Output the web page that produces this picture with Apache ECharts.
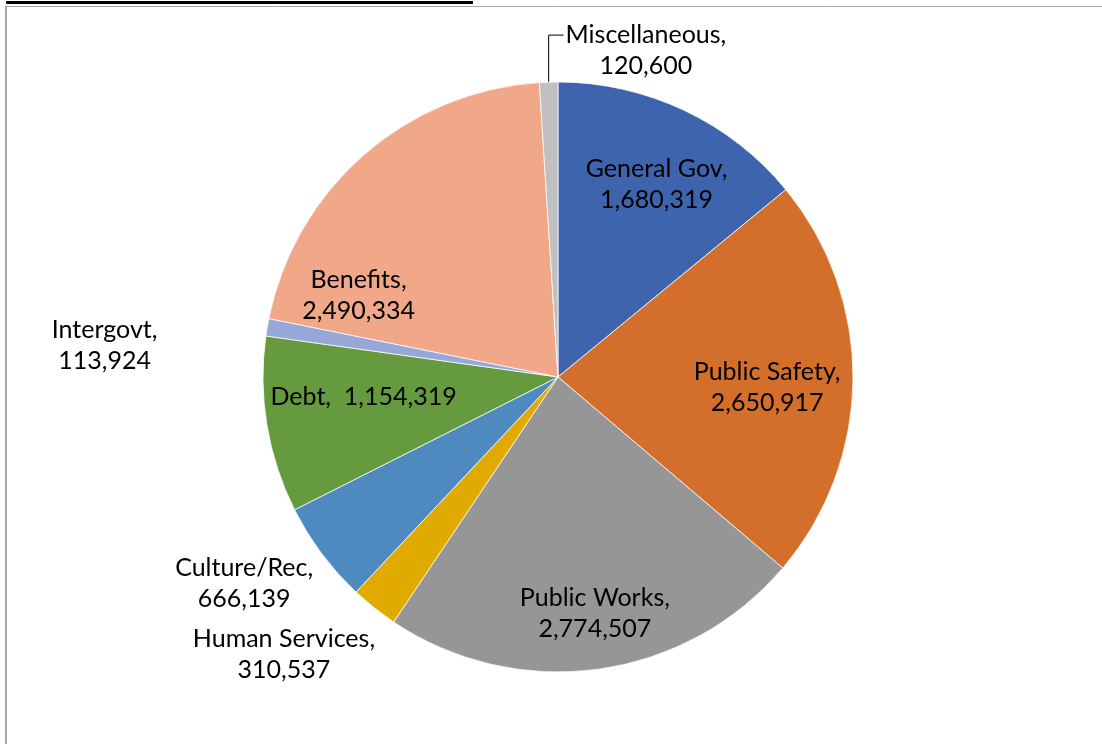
<!DOCTYPE html>
<html>
<head>
<meta charset="utf-8">
<script src="https://cdn.jsdelivr.net/npm/echarts@6/dist/echarts.min.js"></script>
<style>
  html, body { margin: 0; padding: 0; background: #fff; }
  #chart { width: 1102px; height: 744px; }
</style>
</head>
<body>
<div id="chart"></div>
<script>
// data
const categories = ['General Gov', 'Public Safety', 'Public Works', 'Human Services',
  'Culture/Rec', 'Debt', 'Intergovt', 'Benefits', 'Miscellaneous'];
const amounts = [1680319, 2650917, 2774507, 310537, 666139, 1154319, 113924, 2490334, 120600];
const colors = ['#3e64ad', '#d36f2b', '#969696', '#e1aa00', '#4e8abf',
  '#659a3f', '#96a7d8', '#f0a889', '#c0c0c0'];

// pie geometry
const cx = 558, cy = 377, R = 295;

// where each label sits, relative to the centre in radius units
const labelSpots = {
  'General Gov': [0.334, -0.652],
  'Public Safety': [0.709, 0.037],
  'Public Works': [0.125, 0.801],
  'Human Services': [-0.929, 0.939],
  'Culture/Rec': [-1.064, 0.699],
  'Debt': [-0.659, 0.068],
  'Intergovt': [-1.537, -0.108],
  'Benefits': [-0.676, -0.277],
  'Miscellaneous': [0.298, -1.107]
};
const oneLine = ['Debt'];

const fmt = v => v.toLocaleString('en-US');

const chart = echarts.init(document.getElementById('chart'));

const option = {
  animation: false,
  backgroundColor: '#fff',
  graphic: [
    { type: 'rect', shape: { x: 6, y: 1, width: 467, height: 3 }, style: { fill: '#000' } },
    { type: 'line', shape: { x1: 5, y1: 6.5, x2: 1102, y2: 6.5 }, style: { stroke: '#a6a6a6', lineWidth: 1 } },
    { type: 'line', shape: { x1: 6, y1: 6, x2: 6, y2: 744 }, style: { stroke: '#a6a6a6', lineWidth: 2 } }
  ],
  series: [{
    type: 'pie',
    center: [cx, cy],
    radius: R,
    startAngle: 90,
    clockwise: true,
    avoidLabelOverlap: false,
    itemStyle: { borderColor: '#fff', borderWidth: 0.75 },
    label: {
      show: true,
      position: 'inside',
      color: '#000',
      fontFamily: 'Lato',
      fontSize: 25,
      lineHeight: 31,
      formatter: p => oneLine.includes(p.name)
        ? p.name + ',  ' + fmt(p.value)
        : p.name + ',\n' + fmt(p.value)
    },
    labelLine: { show: false },
    labelLayout: params => {
      const name = categories[params.dataIndex];
      const s = labelSpots[name];
      const out = {
        x: cx + s[0] * R,
        y: cy + s[1] * R,
        align: 'center',
        verticalAlign: 'middle'
      };
      if (name === 'Miscellaneous' && params.labelLinePoints) {
        const p0 = params.labelLinePoints[0];
        const topY = cy - 1.159 * R;
        out.labelLinePoints = [p0, [p0[0], topY], [p0[0] + 15, topY]];
      }
      return out;
    },
    data: categories.map((name, i) => {
      const item = { name: name, value: amounts[i], itemStyle: { color: colors[i] } };
      if (name === 'Miscellaneous') {
        item.label = { position: 'outside' };
        item.labelLine = { show: true, lineStyle: { color: '#000', width: 1 } };
      } else if (['Intergovt', 'Culture/Rec', 'Human Services'].includes(name)) {
        item.label = { position: 'outside' };
      }
      return item;
    })
  }]
};

chart.setOption(option);
</script>
</body>
</html>
